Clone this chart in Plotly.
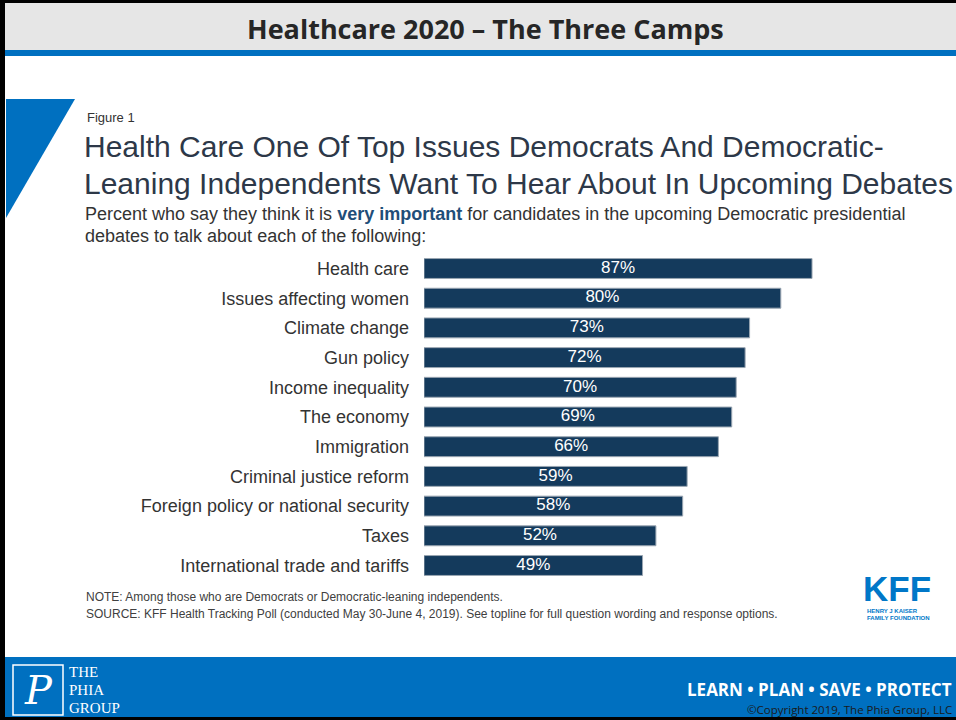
import plotly.graph_objects as go

categories = ["Health care", "Issues affecting women", "Climate change", "Gun policy",
              "Income inequality", "The economy", "Immigration", "Criminal justice reform",
              "Foreign policy or national security", "Taxes", "International trade and tariffs"]
values = [87, 80, 73, 72, 70, 69, 66, 59, 58, 52, 49]
labels = [f"{v}%" for v in values]

W, H = 956, 720
def px(x): return x / W
def py(y): return 1 - y / H

fig = go.Figure()
fig.add_trace(go.Bar(
    x=values, y=categories, orientation="h",
    marker=dict(color="#143a5c", line=dict(color="#9aa6b2", width=1)),
    hoverinfo="skip",
))
fig.add_trace(go.Scatter(
    x=[v / 2 for v in values], y=categories, mode="text", text=labels,
    textposition="middle center",
    textfont=dict(color="white", size=17, family="Liberation Sans, Arial"),
    hoverinfo="skip",
))

shapes = []
shapes.append(dict(type="rect", xref="paper", yref="paper", x0=0, x1=1, y0=py(50), y1=py(0),
                   fillcolor="#e6e6e6", line_width=0, layer="below"))
shapes.append(dict(type="rect", xref="paper", yref="paper", x0=0, x1=1, y0=py(3), y1=py(0),
                   fillcolor="black", line_width=0))
shapes.append(dict(type="rect", xref="paper", yref="paper", x0=0, x1=1, y0=py(56), y1=py(50),
                   fillcolor="#0070c0", line_width=0))
shapes.append(dict(type="rect", xref="paper", yref="paper", x0=0, x1=1, y0=py(717), y1=py(657),
                   fillcolor="#0070c0", line_width=0, layer="below"))
shapes.append(dict(type="rect", xref="paper", yref="paper", x0=0, x1=1, y0=0, y1=py(717),
                   fillcolor="black", line_width=0))
shapes.append(dict(type="rect", xref="paper", yref="paper", x0=0, x1=px(5), y0=0, y1=1,
                   fillcolor="black", line_width=0))
shapes.append(dict(type="path", xref="paper", yref="paper",
                   path=f"M {px(6)} {py(99)} L {px(75)} {py(99)} L {px(6)} {py(218)} Z",
                   fillcolor="#0070c0", line_width=0))
shapes.append(dict(type="rect", xref="paper", yref="paper", x0=px(13), x1=px(63), y0=py(715), y1=py(665),
                   line=dict(color="white", width=1.5), fillcolor="rgba(0,0,0,0)"))

ann = []
def text(x, y, s, size, color="#333333", family="Liberation Sans, Arial", xanchor="left", yanchor="middle", bold=False):
    ann.append(dict(xref="paper", yref="paper", x=px(x), y=py(y), text=(f"<b>{s}</b>" if bold else s),
                    showarrow=False, xanchor=xanchor, yanchor=yanchor,
                    font=dict(size=size, color=color, family=family), align="left"))

text(485, 29, "Healthcare 2020 – The Three Camps", 27, color="#262626", family="Open Sans", xanchor="center", bold=True)
text(85, 118, "Figure 1", 13, color="#333333")
text(82, 147, "Health Care One Of Top Issues Democrats And Democratic-", 30, color="#2d3848")
text(82, 183, "Leaning Independents Want To Hear About In Upcoming Debates", 30, color="#2d3848")
text(83, 214, 'Percent who say they think it is <b><span style="color:#1f4e79">very important</span></b> for candidates in the upcoming Democratic presidential', 18, color="#333333")
text(83, 236, "debates to talk about each of the following:", 18, color="#333333")
text(84, 597, "NOTE: Among those who are Democrats or Democratic-leaning independents.", 12, color="#404040")
text(84, 614, "SOURCE: KFF Health Tracking Poll (conducted May 30-June 4, 2019). See topline for full question wording and response options.", 12, color="#404040")
# KFF logo
text(897, 588, "KFF", 35, color="#0077c8", family="Liberation Sans Narrow, Liberation Sans", xanchor="center", bold=True)
text(865, 611, "HENRY J KAISER", 6, color="#0077c8", bold=True)
text(865, 618, "FAMILY FOUNDATION", 6, color="#0077c8", bold=True)
# footer
text(38, 690, "<i>P</i>", 40, color="white", family="DejaVu Serif", xanchor="center")
text(67, 672, "THE", 15, color="white", family="Liberation Serif")
text(67, 690, "PHIA", 15, color="white", family="Liberation Serif")
text(67, 708, "GROUP", 15, color="white", family="Liberation Serif")
text(954, 689, "LEARN • PLAN • SAVE • PROTECT", 17, color="white", family="Open Sans", xanchor="right", bold=True)
text(954, 709, "©Copyright 2019, The Phia Group, LLC", 11.5, color="#1a1a1a", family="Open Sans", xanchor="right")

fig.update_layout(
    width=W, height=H, autosize=False,
    margin=dict(l=0, r=0, t=0, b=0),
    paper_bgcolor="white", plot_bgcolor="white",
    showlegend=False, bargap=0.33,
    shapes=shapes, annotations=ann,
    xaxis=dict(domain=[px(424), px(870)], range=[0, 100], visible=False, fixedrange=True),
    yaxis=dict(domain=[py(582), py(252)], autorange="reversed", showline=False, showgrid=False,
               ticks="", ticklabelstandoff=14,
               tickfont=dict(size=18, color="#333333", family="Liberation Sans, Arial"), fixedrange=True),
)

fig.write_html("out.html", config={"displayModeBar": False})
